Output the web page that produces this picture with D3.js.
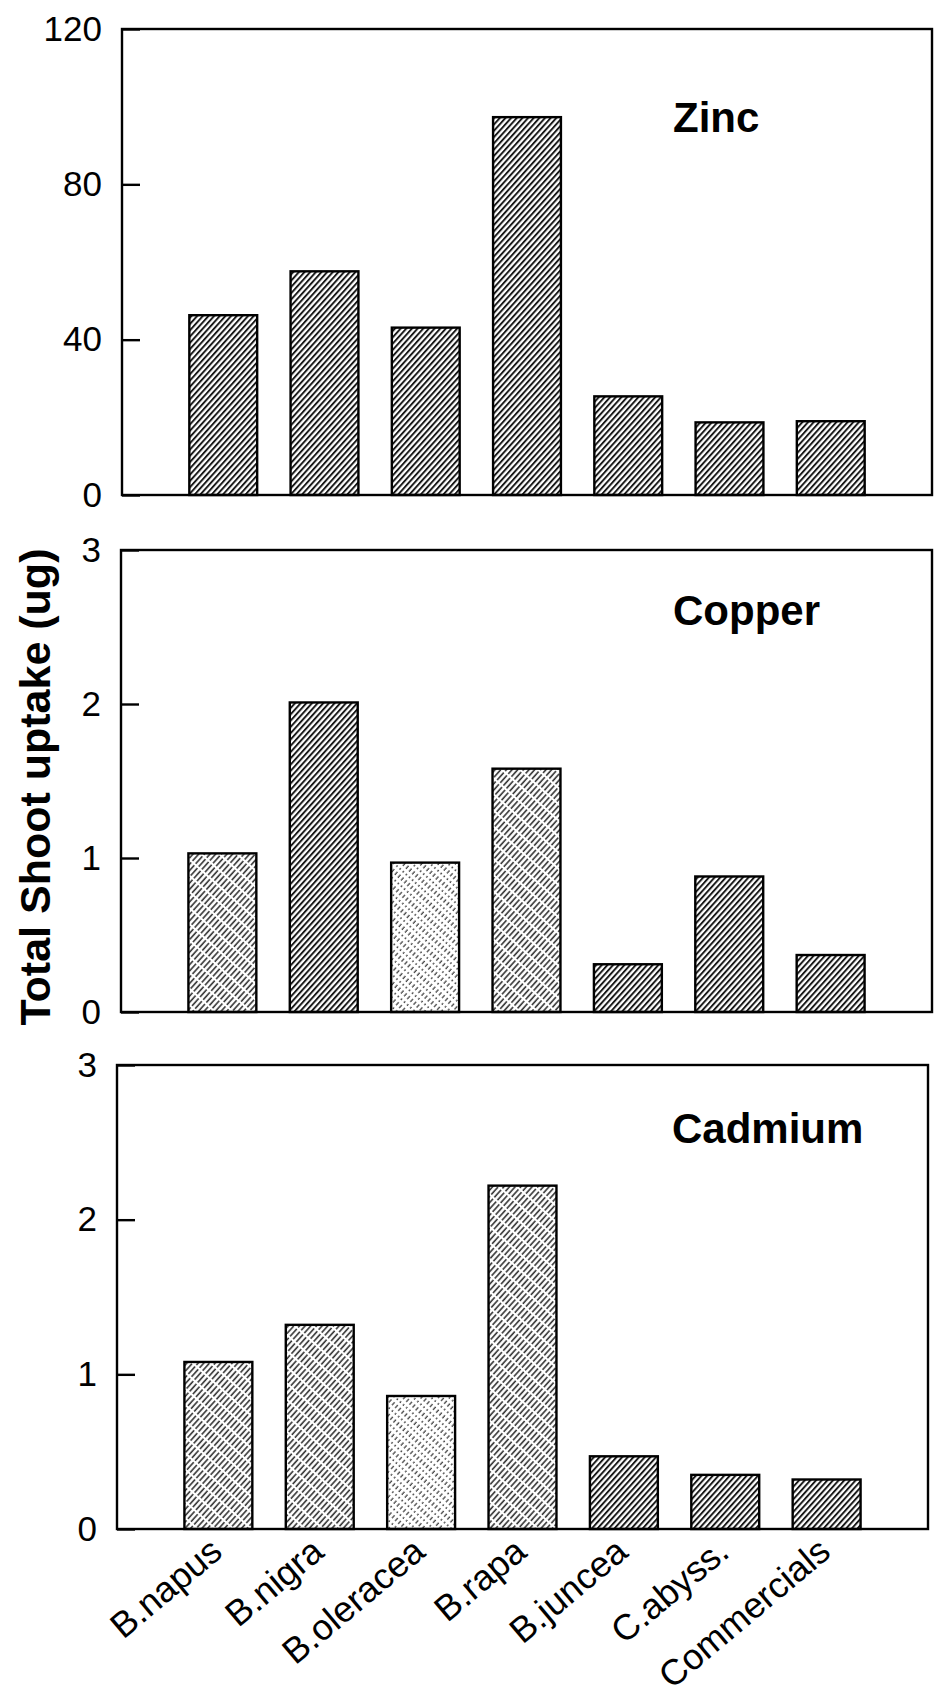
<!DOCTYPE html>
<html>
<head>
<meta charset="utf-8">
<script src="https://cdn.jsdelivr.net/npm/d3@7"></script>
<style>
body { margin: 0; background: #fff; }
text { font-family: "Liberation Sans", Arial, sans-serif; fill: #000; }
</style>
</head>
<body>
<svg id="chart" width="935" height="1706"></svg>
<script>
var species = ['B.napus', 'B.nigra', 'B.oleracea', 'B.rapa', 'B.juncea', 'C.abyss.', 'Commercials']
var zinc = [46.3, 57.6, 43.1, 97.3, 25.4, 18.7, 19.0]
var copper = [1.03, 2.01, 0.97, 1.58, 0.31, 0.88, 0.37]
var cadmium = [1.08, 1.32, 0.86, 2.22, 0.47, 0.35, 0.32]
var zincTicks = [0, 40, 80, 120]
var metalTicks = [0, 1, 2, 3]

// which hatch each bar gets (the scan shows lighter stipple on some bars)
var zincFills = ['hatch', 'hatch', 'hatch', 'hatch', 'hatch', 'hatch', 'hatch']
var copperFills = ['hatchLight', 'hatch', 'speckle', 'hatchLight', 'hatch', 'hatch', 'hatch']
var cadmiumFills = ['hatchLight', 'hatchLight', 'speckle', 'hatchLight', 'hatch', 'hatch', 'hatch']

var svg = d3.select('#chart')
var defs = svg.append('defs')

function makePattern(id, width, dash, color) {
    var p = defs.append('pattern')
        .attr('id', id)
        .attr('patternUnits', 'userSpaceOnUse')
        .attr('width', 4.2)
        .attr('height', 12)
        .attr('patternTransform', 'rotate(42)')
    p.append('rect').attr('width', 4.2).attr('height', 12).attr('fill', '#fff')
    p.append('line')
        .attr('x1', 1).attr('y1', 0).attr('x2', 1).attr('y2', 12)
        .attr('stroke', color)
        .attr('stroke-width', width)
        .attr('stroke-dasharray', dash)
}
makePattern('hatch', 1.9, null, '#111')
makePattern('hatchLight', 1.6, '7,2', '#333')
makePattern('speckle', 1.3, '2,3', '#444')

var panels = [
    { name: 'Zinc', values: zinc, fills: zincFills, ticks: zincTicks, left: 122, right: 932, top: 29, bottom: 495, titleX: 673, titleY: 132 },
    { name: 'Copper', values: copper, fills: copperFills, ticks: metalTicks, left: 121, right: 932, top: 550, bottom: 1012, titleX: 673, titleY: 625 },
    { name: 'Cadmium', values: cadmium, fills: cadmiumFills, ticks: metalTicks, left: 117, right: 928, top: 1065, bottom: 1529, titleX: 672, titleY: 1143 }
]

panels.forEach(function (p, pi) {
    var x = d3.scalePoint().domain(species).range([p.left, p.right]).padding(1)
    var y = d3.scaleLinear().domain([0, d3.max(p.ticks)]).range([p.bottom, p.top])
    var bw = x.step() * 0.67
    var g = svg.append('g')

    g.selectAll('rect.bar')
        .data(species)
        .enter()
        .append('rect')
        .attr('class', 'bar')
        .attr('x', d => x(d) - bw / 2)
        .attr('width', bw)
        .attr('y', (d, i) => y(p.values[i]))
        .attr('height', (d, i) => y(0) - y(p.values[i]))
        .attr('fill', (d, i) => 'url(#' + p.fills[i] + ')')
        .attr('stroke', '#000')
        .attr('stroke-width', 2.4)

    g.append('rect')
        .attr('x', p.left)
        .attr('y', p.top)
        .attr('width', p.right - p.left)
        .attr('height', p.bottom - p.top)
        .attr('fill', 'none')
        .attr('stroke', '#000')
        .attr('stroke-width', 2.4)

    var ax = g.append('g')
        .attr('transform', 'translate(' + p.left + ',0)')
        .call(d3.axisLeft(y).tickValues(p.ticks).tickFormat(d3.format('d')).tickSizeInner(-18).tickSizeOuter(0).tickPadding(20))
    ax.select('.domain').remove()
    ax.selectAll('line').attr('stroke', '#000').attr('stroke-width', 2.4)
    ax.selectAll('text')
        .attr('font-size', 35)
        .attr('font-family', '"Liberation Sans", Arial, sans-serif')
        .attr('fill', '#000')

    g.append('text')
        .attr('x', p.titleX)
        .attr('y', p.titleY)
        .attr('font-size', 42)
        .attr('font-weight', 'bold')
        .text(p.name)

    // category names only under the bottom panel
    if (pi == panels.length - 1) {
        g.selectAll('text.cat')
            .data(species)
            .enter()
            .append('text')
            .attr('class', 'cat')
            .attr('text-anchor', 'end')
            .attr('font-size', 36)
            .attr('transform', d => 'translate(' + (x(d) + 6) + ',' + (p.bottom + 26) + ') rotate(-40)')
            .text(d => d)
    }
})

svg.append('text')
    .attr('transform', 'translate(50,787) rotate(-90)')
    .attr('text-anchor', 'middle')
    .attr('font-size', 43)
    .attr('font-weight', 'bold')
    .text('Total Shoot uptake (ug)')
</script>
</body>
</html>
